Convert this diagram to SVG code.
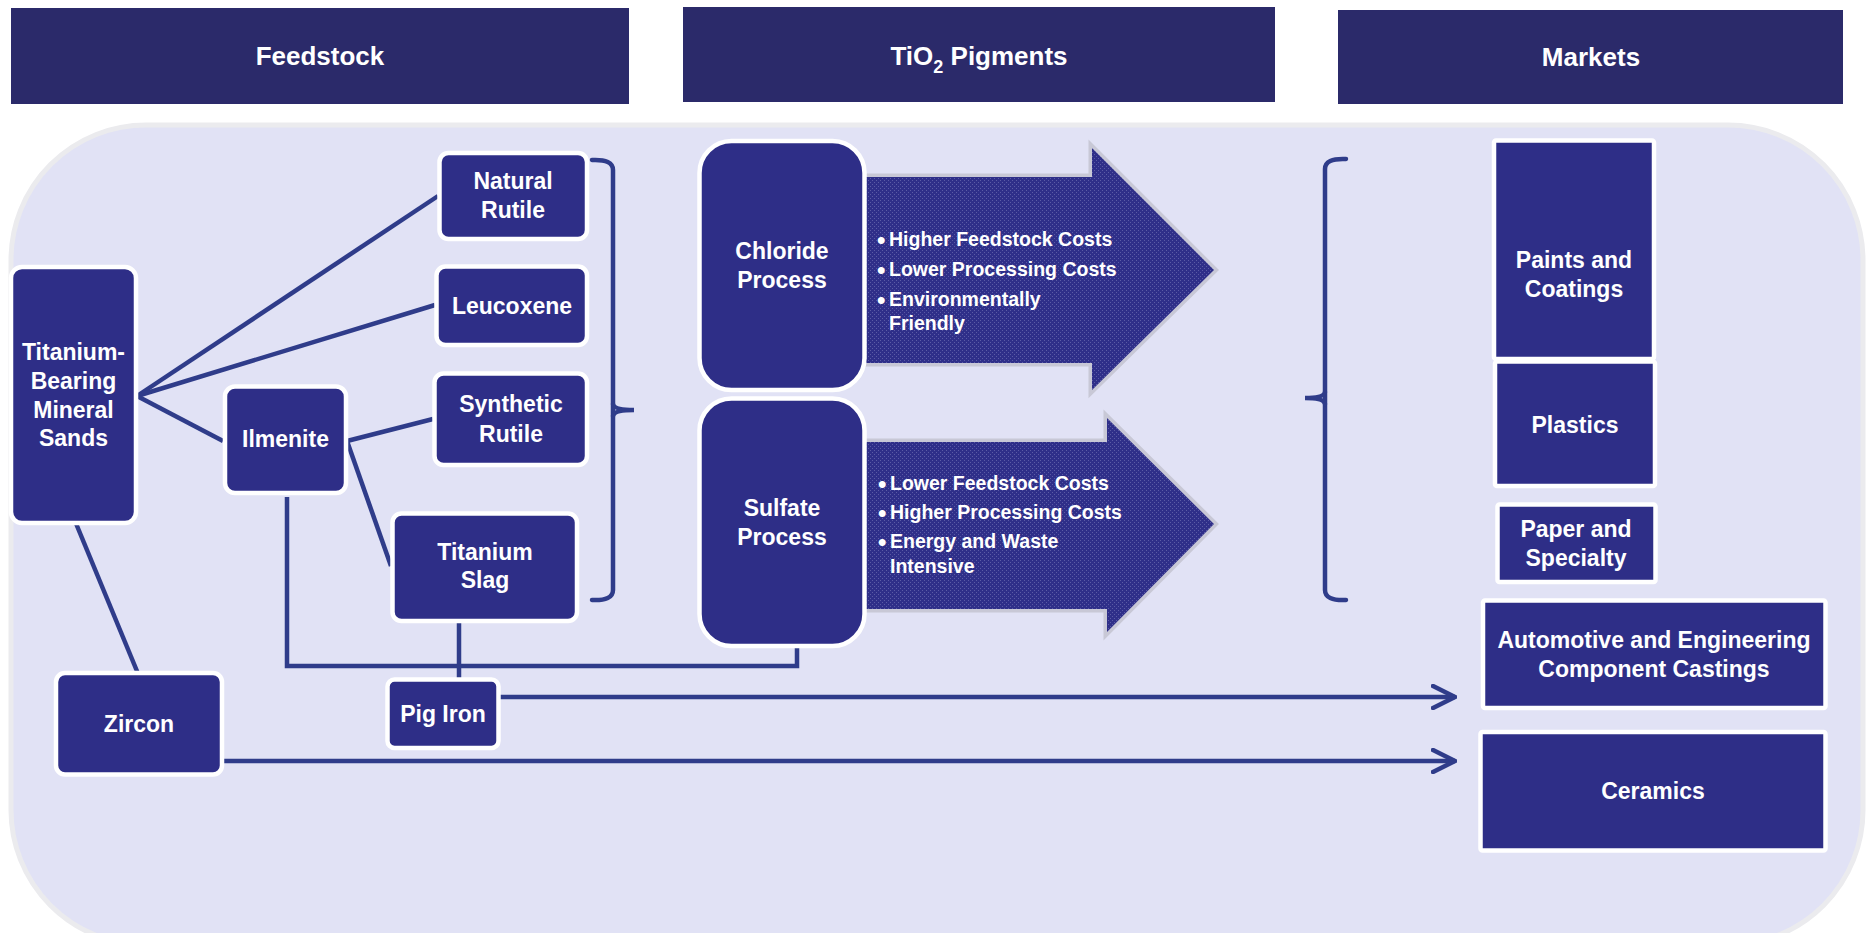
<svg xmlns="http://www.w3.org/2000/svg" width="1869" height="933" viewBox="0 0 1869 933">
<defs>
<style>
.hdr{fill:#2B2A6A}
.node{fill:#2E2E87;stroke:#FFFFFF;stroke-width:4.5}
.t{font-family:"Liberation Sans",Arial,sans-serif;font-weight:bold;fill:#FFFFFF;text-anchor:middle}
.lbl{font-size:23px}
.hl{font-size:26px}
.bl{font-size:19.5px;text-anchor:start}
.bu{font-size:24px}
.con{fill:none;stroke:#2F3C8A;stroke-width:4.5;stroke-linejoin:miter}
.brk{fill:none;stroke:#2F3C8A;stroke-width:4.5;stroke-linecap:round}
.ashadow{fill:#C8C8D6;stroke:#C8C8D6;stroke-width:7;stroke-linejoin:miter}
.arw{fill:url(#dots)}
</style>
<pattern id="dots" width="4" height="4" patternUnits="userSpaceOnUse">
<rect width="4" height="4" fill="#2F2F89"/>
<rect x="0" y="0" width="1" height="1" fill="#5B5BA6"/>
<rect x="2" y="2" width="1" height="1" fill="#5B5BA6"/>
</pattern>
<marker id="chev" viewBox="0 0 26 26" refX="24" refY="13" markerWidth="26" markerHeight="26" markerUnits="userSpaceOnUse" orient="auto">
<path d="M2,2 L24,13 L2,24" fill="none" stroke="#2F3C8A" stroke-width="4.5" stroke-linecap="round" stroke-linejoin="miter"/>
</marker>
</defs>

<rect x="0" y="0" width="1869" height="933" fill="#FFFFFF"/>

<!-- Headers -->
<g id="hdr-feedstock">
<rect class="hdr" x="11" y="8" width="618" height="96"/>
<text class="t hl" x="320" y="65">Feedstock</text>
</g>
<g id="hdr-pigments">
<rect class="hdr" x="683" y="7" width="592" height="95"/>
<text class="t hl" x="979" y="65">TiO<tspan font-size="18" dy="8">2</tspan><tspan dy="-8"> Pigments</tspan></text>
</g>
<g id="hdr-markets">
<rect class="hdr" x="1338" y="10" width="505" height="94"/>
<text class="t hl" x="1591" y="66">Markets</text>
</g>

<!-- Background panel -->
<rect x="11" y="125" width="1852" height="820" rx="135" ry="135" fill="#E1E2F5" stroke="#EBEBEE" stroke-width="5"/>

<!-- Process arrows -->
<g id="arrow-chloride">
<polygon class="ashadow" points="850,177 1092,177 1092,148 1214,270 1092,390 1092,363 850,363"/>
<polygon class="arw" points="850,177 1092,177 1092,148 1214,270 1092,390 1092,363 850,363"/>
<text class="t bl"><tspan class="bu" x="877" y="248">•</tspan><tspan x="889" y="246">Higher Feedstock Costs</tspan><tspan class="bu" x="877" y="278">•</tspan><tspan x="889" y="276">Lower Processing Costs</tspan><tspan class="bu" x="877" y="308">•</tspan><tspan x="889" y="306">Environmentally</tspan><tspan x="889" y="330">Friendly</tspan></text>
</g>
<g id="arrow-sulfate">
<polygon class="ashadow" points="850,442 1107,442 1107,418 1214,524 1107,632 1107,609 850,609"/>
<polygon class="arw" points="850,442 1107,442 1107,418 1214,524 1107,632 1107,609 850,609"/>
<text class="t bl"><tspan class="bu" x="878" y="492">•</tspan><tspan x="890" y="490">Lower Feedstock Costs</tspan><tspan class="bu" x="878" y="521">•</tspan><tspan x="890" y="519">Higher Processing Costs</tspan><tspan class="bu" x="878" y="550">•</tspan><tspan x="890" y="548">Energy and Waste</tspan><tspan x="890" y="573">Intensive</tspan></text>
</g>

<!-- Connectors -->
<g id="connectors">
<line class="con" x1="137" y1="396" x2="438" y2="196"/>
<line class="con" x1="137" y1="396" x2="435" y2="305"/>
<line class="con" x1="137" y1="396" x2="223" y2="441"/>
<line class="con" x1="347" y1="441" x2="433" y2="419"/>
<line class="con" x1="347" y1="441" x2="391" y2="566"/>
<line class="con" x1="75" y1="521" x2="139" y2="676"/>
<polyline class="con" points="287,497 287,666 797,666 797,648"/>
<line class="con" x1="459" y1="621" x2="459" y2="679"/>
<line class="con" x1="500" y1="697" x2="1455" y2="697" marker-end="url(#chev)"/>
<line class="con" x1="223" y1="761" x2="1455" y2="761" marker-end="url(#chev)"/>
<path class="brk" d="M592,160 Q613,159 613,170 L613,590 Q613,601 592,600"/>
<path class="brk" d="M613,404 Q614,410 634,410 Q614,410 613,416"/>
<path class="brk" d="M1346,159 Q1325,158 1325,169 L1325,590 Q1325,601 1346,600"/>
<path class="brk" d="M1325,392 Q1324,398 1305,398 Q1324,398 1325,404"/>
</g>

<!-- Feedstock nodes -->
<g id="n-sands">
<rect class="node" x="11" y="267" width="125" height="256" rx="11"/>
<text class="t lbl"><tspan x="73.5" y="360">Titanium-</tspan><tspan x="73.5" y="389">Bearing</tspan><tspan x="73.5" y="418">Mineral</tspan><tspan x="73.5" y="446">Sands</tspan></text>
</g>
<g id="n-ilmenite">
<rect class="node" x="225" y="386.5" width="121" height="106.5" rx="10"/>
<text class="t lbl" x="285.5" y="447">Ilmenite</text>
</g>
<g id="n-natural-rutile">
<rect class="node" x="439.5" y="153" width="147.5" height="86" rx="9"/>
<text class="t lbl"><tspan x="513" y="189">Natural</tspan><tspan x="513" y="218">Rutile</tspan></text>
</g>
<g id="n-leucoxene">
<rect class="node" x="436.5" y="266.5" width="150.5" height="78.5" rx="9"/>
<text class="t lbl" x="512" y="314">Leucoxene</text>
</g>
<g id="n-synthetic-rutile">
<rect class="node" x="434.5" y="373.5" width="152.5" height="91.5" rx="9"/>
<text class="t lbl"><tspan x="511" y="412">Synthetic</tspan><tspan x="511" y="442">Rutile</tspan></text>
</g>
<g id="n-slag">
<rect class="node" x="392.5" y="513.5" width="184.5" height="107.5" rx="9"/>
<text class="t lbl"><tspan x="485" y="560">Titanium</tspan><tspan x="485" y="588">Slag</tspan></text>
</g>
<g id="n-pig-iron">
<rect class="node" x="387.5" y="679.5" width="111" height="68.5" rx="7"/>
<text class="t lbl" x="443" y="722">Pig Iron</text>
</g>
<g id="n-zircon">
<rect class="node" x="56" y="673" width="166" height="101.5" rx="9"/>
<text class="t lbl" x="139" y="732">Zircon</text>
</g>

<!-- Process nodes -->
<g id="n-chloride">
<rect class="node" x="699.5" y="141" width="165" height="249" rx="32"/>
<text class="t lbl"><tspan x="782" y="259">Chloride</tspan><tspan x="782" y="288">Process</tspan></text>
</g>
<g id="n-sulfate">
<rect class="node" x="699.5" y="398.5" width="165" height="247.5" rx="32"/>
<text class="t lbl"><tspan x="782" y="516">Sulfate</tspan><tspan x="782" y="545">Process</tspan></text>
</g>

<!-- Market nodes -->
<g id="n-paints">
<rect class="node" x="1494" y="140.5" width="160" height="218.5" rx="2"/>
<text class="t lbl"><tspan x="1574" y="268">Paints and</tspan><tspan x="1574" y="297">Coatings</tspan></text>
</g>
<g id="n-plastics">
<rect class="node" x="1495" y="361.5" width="160" height="124.5" rx="2"/>
<text class="t lbl" x="1575" y="433">Plastics</text>
</g>
<g id="n-paper">
<rect class="node" x="1497.5" y="504.5" width="158" height="77.5" rx="2"/>
<text class="t lbl"><tspan x="1576" y="537">Paper and</tspan><tspan x="1576" y="566">Specialty</tspan></text>
</g>
<g id="n-automotive">
<rect class="node" x="1483" y="600.5" width="342.5" height="107.5" rx="2"/>
<text class="t lbl"><tspan x="1654" y="648">Automotive and Engineering</tspan><tspan x="1654" y="677">Component Castings</tspan></text>
</g>
<g id="n-ceramics">
<rect class="node" x="1480.5" y="732" width="345" height="118.5" rx="2"/>
<text class="t lbl" x="1653" y="799">Ceramics</text>
</g>
</svg>
